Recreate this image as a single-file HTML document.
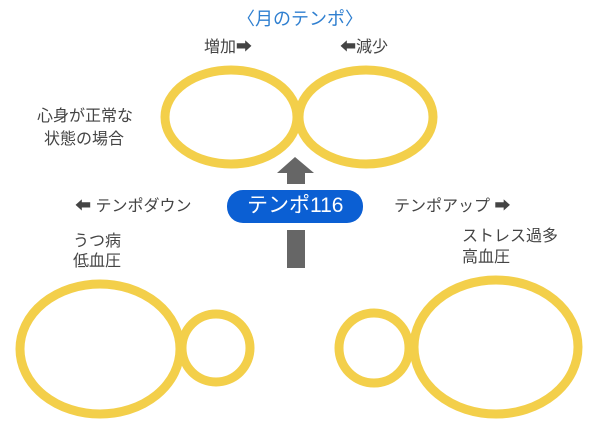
<!DOCTYPE html>
<html><head><meta charset="utf-8"><style>
body{margin:0;background:#fff;}
.t{position:absolute;font-family:"Liberation Sans","Noto Sans CJK JP",sans-serif;color:#444;font-size:16px;white-space:nowrap;line-height:1}
</style></head><body>
<div style="position:relative;width:600px;height:425px;overflow:hidden">
<svg width="600" height="425" style="position:absolute;left:0;top:0">
<g fill="none" stroke="#f3cf4a" stroke-width="9">
<ellipse cx="231" cy="117" rx="66" ry="47"/>
<ellipse cx="366" cy="117" rx="67" ry="47"/>
<ellipse cx="100" cy="349" rx="80" ry="65"/>
<ellipse cx="216" cy="348" rx="34" ry="34"/>
<ellipse cx="374" cy="348" rx="35" ry="35"/>
<ellipse cx="496" cy="347" rx="82" ry="67"/>
</g>
<polygon points="295,157 314,173 305,173 305,184 287,184 287,173 277,173" fill="#666"/>
<rect x="287" y="230" width="18" height="38" fill="#666"/>
<rect x="227" y="190" width="136" height="33" rx="16" fill="#0b5fd3"/>
</svg>
<div class="t" style="left:237px;top:10px;color:#2f7fd0;font-size:18px">〈月のテンポ〉</div>
<div class="t" style="left:204px;top:40px">増加➡</div>
<div class="t" style="left:340px;top:40px">⬅減少</div>
<div class="t" style="left:37px;top:109px">心身が正常な</div>
<div class="t" style="left:44px;top:132px">状態の場合</div>
<div class="t" style="left:247px;top:195px;color:#fff;font-size:21px">テンポ116</div>
<div class="t" style="left:75px;top:199px">⬅ テンポダウン</div>
<div class="t" style="left:394px;top:199px">テンポアップ ➡</div>
<div class="t" style="left:73px;top:234px">うつ病</div>
<div class="t" style="left:73px;top:254px">低血圧</div>
<div class="t" style="left:462px;top:229px">ストレス過多</div>
<div class="t" style="left:462px;top:250px">高血圧</div>
</div>
</body></html>
